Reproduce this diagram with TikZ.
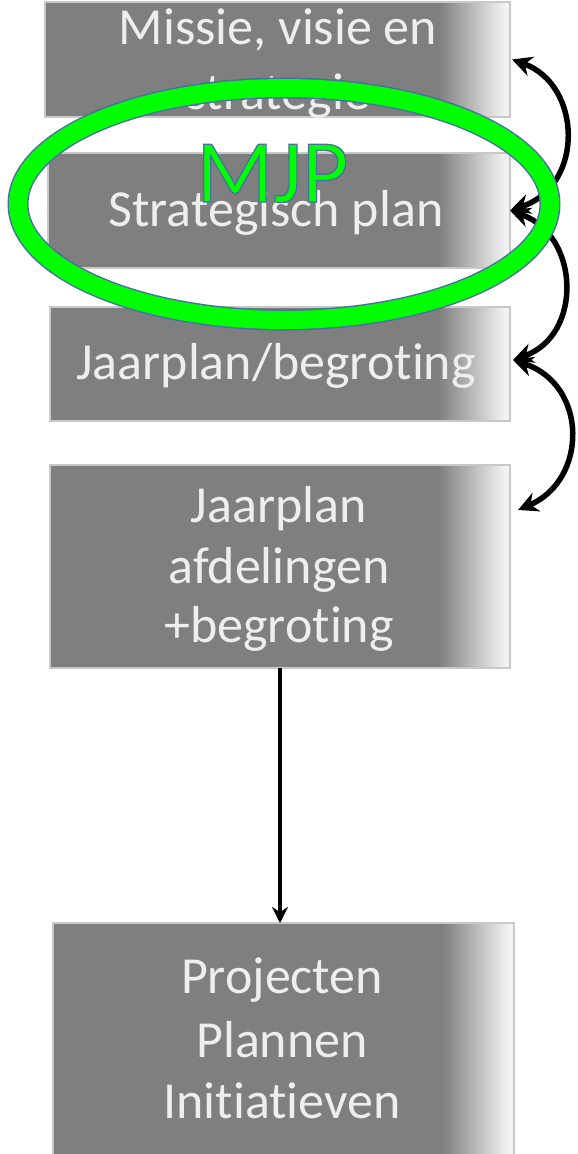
\documentclass[tikz,border=0pt]{standalone}
\usepackage{fontspec}
\setmainfont{Carlito}[Ligatures=NoCommon]
\usetikzlibrary{arrows.meta,calc}
\definecolor{boxgray}{HTML}{7F7F7F}
\definecolor{boxlight}{HTML}{F2F2F2}
\definecolor{boxborder}{HTML}{C8C8C8}
\definecolor{txt}{HTML}{EEEEEE}
\definecolor{ringgreen}{HTML}{00FF00}
\definecolor{ringblue}{HTML}{4A6FA5}
\begin{document}
\begin{tikzpicture}[x=1pt,y=-1pt,
  box/.style={fill=boxgray, inner sep=0pt, outer sep=0pt},
  boxtext/.style={text=txt, font=\fontsize{52}{62}\selectfont, anchor=base, inner sep=0pt},
  link/.style={line width=5.5pt, {Stealth[length=20pt,width=20pt]}-{Stealth[length=20pt,width=20pt]}},
  vlink/.style={line width=3.8pt, -{Stealth[length=16pt,width=16pt]}},
  mjp/.style={font=\fontsize{90}{90}\selectfont, anchor=base, inner sep=0pt}
]
\useasboundingbox (0,0) rectangle (578,1154);

% boxes
\node[box, minimum width=465pt, minimum height=115pt] (b1) at (277.5,59.5) {};
\node[box, minimum width=462pt, minimum height=115pt] (b2) at (279,210.5) {};
\node[box, minimum width=460pt, minimum height=114pt] (b3) at (280,364) {};
\node[box, minimum width=460pt, minimum height=203pt] (b4) at (280,566.5) {};
\node[box, minimum width=461pt, minimum height=242pt] (b5) at (283.5,1044) {};

% right-hand fade of every box
\foreach \b in {b1,b2,b3,b4,b5} {
  \foreach \i in {0,...,33} {
    \pgfmathsetmacro{\p}{100-\i*100/33}
    \fill[boxgray!\p!boxlight] ([xshift={-72pt+\i*2pt}]\b.south east) rectangle ([xshift={-69.7pt+\i*2pt}]\b.north east);
  }
  \fill[boxlight] ([xshift=-4pt]\b.south east) rectangle (\b.north east);
  \draw[boxborder, line width=1.5pt] (\b.south west) rectangle (\b.north east);
}

% texts
\node[boxtext] (t1a) at (278,44) {Missie, visie en};
\node[boxtext] (t1b) at (278,109) {strategie};
\node[boxtext] (t2) at (276,226) {Strategisch plan};
\node[boxtext] (t3) at (276,379) {Jaarplan/begroting};
\node[boxtext] (t4a) at (279,522) {Jaarplan};
\node[boxtext] (t4b) at (279,583) {afdelingen};
\node[boxtext] (t4c) at (279,642) {+begroting};
\node[boxtext] (t5a) at (282,993) {Projecten};
\node[boxtext] (t5b) at (282,1057) {Plannen};
\node[boxtext] (t5c) at (282,1118) {Initiatieven};

% curved arrows
\coordinate (p1) at ([xshift=2pt]b1.east);
\coordinate (p2) at (b2.east);
\coordinate (p3) at ([xshift=3pt,yshift=4pt]b3.east);
\coordinate (p4) at ([xshift=8pt,yshift=-45pt]b4.north east);
\draw[link] (p1) .. controls +(70,25) and +(75,-25) .. (p2);
\draw[link] (p2) .. controls +(70,25) and +(70,-25) .. (p3);
\draw[link] (p3) .. controls +(75,25) and +(70,-30) .. (p4);

% vertical arrow
\draw[vlink] (b4.south) -- (b4.south |- b5.north);

% ring
\draw[ringblue, line width=21pt] (284,204) ellipse [x radius=266pt, y radius=116pt];
\draw[ringgreen, line width=18pt] (284,204) ellipse [x radius=266pt, y radius=116pt];

% MJP label (green fill, thin blue outline)
\node[mjp, text=ringgreen] (mjp) at (272.5,202)
  {\special{pdf:literal direct 0.29 0.435 0.647 RG 1.3 w 2 Tr}MJP\special{pdf:literal direct 0 Tr}};
\end{tikzpicture}
\end{document}
